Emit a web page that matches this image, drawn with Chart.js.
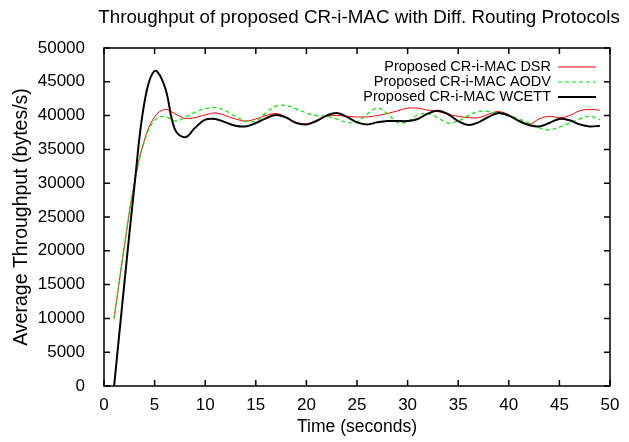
<!DOCTYPE html>
<html>
<head>
<meta charset="utf-8">
<script src="https://cdn.jsdelivr.net/npm/chart.js@4"></script>
<style>
  html, body { margin: 0; padding: 0; background: #fff; }
  #wrap { width: 629px; height: 442px; }
</style>
</head>
<body>
<div id="wrap"><canvas id="tput"></canvas></div>
<script>
// time axis (seconds)
const times = [1, 2, 3, 4, 5, 6, 7, 8, 9, 10, 11, 12, 13, 14, 15, 16, 17, 18, 19, 20,
  21, 22, 23, 24, 25, 26, 27, 28, 29, 30, 31, 32, 33, 34, 35, 36, 37, 38, 39, 40,
  41, 42, 43, 44, 45, 46, 47, 48, 49];

// average throughput (bytes/s)
const dsr = [10000, 20500, 30000, 36400, 39800, 40900, 40300, 39600, 39700, 40100,
  40400, 40000, 39500, 39200, 39500, 40000, 40300, 39800, 39000, 38800,
  39300, 39900, 40000, 39900, 39800, 39800, 40000, 40300, 40700, 41100,
  41100, 40800, 40600, 40200, 39900, 39700, 39700, 40200, 40600, 40100,
  39300, 38700, 39500, 39900, 39700, 40000, 40700, 40900, 40800];

const aodv = [10000, 20500, 30000, 36200, 39300, 39900, 39200, 39700, 40500, 41000,
  41200, 40700, 39900, 39200, 39200, 40400, 41400, 41500, 41000, 40400,
  40000, 39900, 39500, 39000, 39100, 40200, 41100, 40300, 39000, 39100,
  40100, 40300, 39700, 38900, 39200, 40000, 40600, 40600, 40300, 40000,
  39500, 38900, 38200, 37900, 38300, 38900, 39500, 39900, 39400];

const wcett = [0, 15000, 29500, 42000, 46600, 44300, 38000, 36800, 38200, 39400,
  39500, 39000, 38500, 38400, 38900, 39600, 40100, 39700, 38900, 38700,
  39200, 40000, 40400, 39800, 39000, 38700, 39000, 39200, 39200, 39200,
  39500, 40300, 40700, 40200, 39200, 38600, 39000, 39800, 40400, 40000,
  39200, 38600, 38400, 38900, 39500, 39300, 38700, 38400, 38500];

const seriesNames = ['Proposed CR-i-MAC DSR', 'Proposed CR-i-MAC AODV', 'Proposed CR-i-MAC WCETT'];
const seriesColors = ['#ff0000', '#00e600', '#000000'];

const FONT = "'Liberation Sans', Arial, sans-serif";

function toPoints(vals) {
  return vals.map((v, i) => ({ x: times[i], y: v }));
}

// gnuplot style box with inward ticks on all four sides
const framePlugin = {
  id: 'frame',
  afterDatasetsDraw(chart) {
    const { ctx, chartArea: a, scales } = chart;
    ctx.save();
    ctx.strokeStyle = '#000';
    ctx.lineWidth = 1.5;
    ctx.strokeRect(a.left, a.top, a.right - a.left, a.bottom - a.top);
    const len = 6;
    ctx.beginPath();
    scales.x.ticks.forEach(t => {
      const px = scales.x.getPixelForValue(t.value);
      ctx.moveTo(px, a.bottom); ctx.lineTo(px, a.bottom - len);
      ctx.moveTo(px, a.top); ctx.lineTo(px, a.top + len);
    });
    scales.y.ticks.forEach(t => {
      const py = scales.y.getPixelForValue(t.value);
      ctx.moveTo(a.left, py); ctx.lineTo(a.left + len, py);
      ctx.moveTo(a.right, py); ctx.lineTo(a.right - len, py);
    });
    ctx.stroke();

    // legend, gnuplot style: text on the left, sample line on the right
    ctx.font = '14.5px ' + FONT;
    ctx.textAlign = 'right';
    ctx.textBaseline = 'middle';
    chart.data.datasets.forEach((ds, i) => {
      const y = a.top + 19 + i * 15;
      ctx.fillStyle = '#000';
      ctx.fillText(seriesNames[i], a.right - 59, y);
      ctx.strokeStyle = ds.borderColor;
      ctx.lineWidth = ds.borderWidth;
      ctx.setLineDash(ds.borderDash || []);
      ctx.beginPath();
      ctx.moveTo(a.right - 52, y);
      ctx.lineTo(a.right - 14, y);
      ctx.stroke();
      ctx.setLineDash([]);
    });

    // title centred over the plot
    ctx.font = '18.8px ' + FONT;
    ctx.textAlign = 'center';
    ctx.fillStyle = '#000';
    ctx.fillText('Throughput of proposed CR-i-MAC with Diff. Routing Protocols', (a.left + a.right) / 2 + 2, 18);
    ctx.restore();
  }
};

new Chart(document.getElementById('tput'), {
  type: 'line',
  data: {
    datasets: [
      { label: seriesNames[0], data: toPoints(dsr), borderColor: seriesColors[0], borderWidth: 1, order: 3 },
      { label: seriesNames[1], data: toPoints(aodv), borderColor: seriesColors[1], borderWidth: 1.2, borderDash: [4, 3], order: 2 },
      { label: seriesNames[2], data: toPoints(wcett), borderColor: seriesColors[2], borderWidth: 2, order: 1 },
    ],
  },
  options: {
    responsive: true,
    maintainAspectRatio: false,
    animation: false,
    layout: { padding: { top: 48, right: 19, left: 0, bottom: 0 } },
    elements: {
      point: { radius: 0 },
      line: { tension: 0.4, fill: false },
    },
    plugins: {
      legend: { display: false },
      title: { display: false },
      tooltip: { enabled: false },
    },
    scales: {
      x: {
        type: 'linear',
        min: 0,
        max: 50,
        grid: { display: false },
        border: { display: false },
        ticks: { stepSize: 5, color: '#000', font: { family: FONT, size: 17 }, padding: 1, maxRotation: 0 },
        title: { display: true, text: 'Time (seconds)', color: '#000', font: { family: FONT, size: 17.5 }, padding: { top: 0, bottom: 4 } },
        afterFit(scale) { scale.height = 56; },
      },
      y: {
        min: 0,
        max: 50000,
        grid: { display: false },
        border: { display: false },
        ticks: {
          stepSize: 5000, color: '#000', font: { family: FONT, size: 17 }, padding: 11,
          callback: v => String(v),
        },
        title: { display: true, text: 'Average Throughput (bytes/s)', color: '#000', font: { family: FONT, size: 19.5 }, padding: { top: 10, bottom: 0 } },
        afterFit(scale) { scale.width = 104; },
      },
    },
  },
  plugins: [framePlugin],
});
</script>
</body>
</html>
